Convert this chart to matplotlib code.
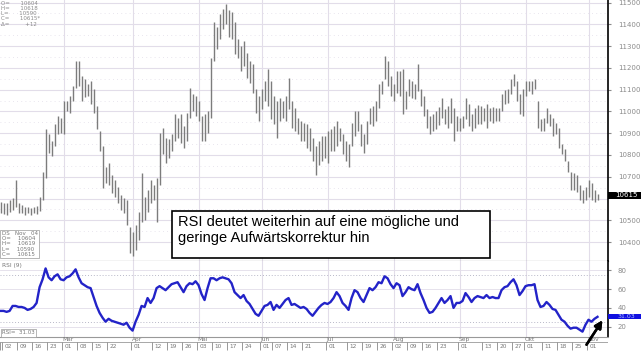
import matplotlib
matplotlib.use('Agg')
import matplotlib.pyplot as plt
from matplotlib.patches import Rectangle
from matplotlib.transforms import blended_transform_factory

# Tagesbalken (Hoch/Tief) 30.01.2004 - 04.11.2004, ein Wert pro Handelstag
highs = [10583, 10578, 10578, 10592, 10601, 10683, 10578, 10569, 10560, 10560,
         10556, 10560, 10565, 10606, 10720, 10920, 10898, 10866, 10943, 10980,
         10970, 11048, 11048, 11071, 11116, 11230, 11230, 11162, 11148, 11126,
         11139, 11103, 11025, 10911, 10843, 10743, 10761, 10706, 10683, 10651,
         10615, 10601, 10592, 10469, 10446, 10478, 10537, 10715, 10606, 10638,
         10683, 10660, 10692, 10902, 10925, 10879, 10875, 10898, 10989, 10970,
         10989, 10934, 10993, 11107, 11080, 11071, 11048, 10980, 10989, 11002,
         11244, 11413, 11390, 11449, 11472, 11495, 11468, 11458, 11413, 11335,
         11299, 11322, 11267, 11230, 11217, 11103, 11071, 11103, 11139, 11194,
         11139, 11071, 11048, 11062, 11048, 11071, 11153, 11048, 11016, 10970,
         10957, 10948, 10943, 10925, 10879, 10843, 10866, 10888, 10888, 10911,
         10920, 10934, 10957, 10925, 10898, 10866, 10852, 10948, 11002, 11002,
         10943, 10898, 10957, 11016, 11025, 11048, 11126, 11139, 11253, 11230,
         11162, 11126, 11185, 11185, 11194, 11094, 11148, 11139, 11126, 11217,
         11103, 11071, 11012, 10980, 10989, 11002, 11021, 11062, 11012, 11025,
         11062, 11016, 10980, 10970, 10980, 11062, 11034, 10989, 11016, 11030,
         11025, 11016, 11034, 11016, 11021, 11016, 11016, 11080, 11098, 11103,
         11148, 11171, 11139, 11080, 11103, 11139, 11139, 11139, 11148, 11048,
         10966, 10970, 11016, 10989, 10970, 10948, 10925, 10852, 10829, 10774,
         10720, 10715, 10706, 10660, 10638, 10651, 10683, 10670, 10638, 10619]

lows = [10533, 10528, 10524, 10537, 10546, 10560, 10533, 10533, 10524, 10533,
        10524, 10533, 10528, 10542, 10592, 10692, 10811, 10797, 10843, 10898,
        10902, 10898, 11002, 10993, 11048, 11107, 11116, 11048, 11066, 11071,
        11034, 10993, 10920, 10820, 10647, 10670, 10660, 10624, 10606, 10578,
        10546, 10533, 10478, 10350, 10337, 10364, 10410, 10492, 10501, 10537,
        10578, 10592, 10492, 10660, 10806, 10765, 10784, 10820, 10866, 10879,
        10856, 10834, 10866, 10970, 11002, 10980, 10957, 10866, 10866, 10902,
        10970, 11230, 11285, 11331, 11381, 11404, 11344, 11331, 11262, 11244,
        11185, 11208, 11153, 11130, 11084, 10993, 10957, 11012, 11048, 11025,
        10966, 10943, 10879, 10957, 10970, 10957, 11012, 10925, 10911, 10898,
        10866, 10866, 10834, 10820, 10774, 10706, 10752, 10774, 10784, 10765,
        10820, 10820, 10843, 10866, 10806, 10774, 10743, 10843, 10888, 10911,
        10843, 10811, 10852, 10943, 10934, 10957, 11016, 11080, 11148, 11116,
        11071, 11048, 11084, 11071, 10989, 11012, 11071, 11062, 11057, 11094,
        11025, 10980, 10925, 10898, 10911, 10920, 10939, 10970, 10943, 10925,
        10948, 10866, 10911, 10911, 10925, 10966, 10934, 10911, 10925, 10943,
        10943, 10957, 10925, 10957, 10948, 10957, 10957, 11002, 11034, 11039,
        11080, 11116, 11048, 10989, 10980, 11071, 11094, 11080, 11103, 10925,
        10911, 10911, 10948, 10934, 10888, 10898, 10834, 10806, 10774, 10720,
        10638, 10638, 10629, 10592, 10578, 10592, 10606, 10592, 10583, 10592]

# RSI (9)
rsi = [36.8, 36.8, 35.8, 36.8, 42.1, 42.1, 41.0, 41.0, 40.0, 37.9,
       38.9, 41.0, 45.3, 62.1, 70.5, 82.1, 72.6, 69.5, 73.7, 75.8,
       70.5, 69.5, 72.6, 73.7, 76.8, 81.1, 72.6, 66.3, 64.2, 62.1,
       61.1, 51.6, 42.1, 34.7, 29.5, 25.3, 28.4, 26.3, 25.3, 24.2,
       23.2, 22.1, 24.2, 18.9, 15.8, 25.3, 32.6, 42.1, 41.0, 50.5,
       45.3, 50.5, 61.1, 63.2, 61.1, 58.9, 62.1, 65.3, 66.3, 67.4,
       62.1, 56.8, 63.2, 66.3, 65.3, 68.4, 64.2, 54.7, 48.4, 61.1,
       71.6, 71.6, 69.5, 71.6, 72.6, 71.6, 70.5, 66.3, 56.8, 53.7,
       50.5, 53.7, 47.4, 44.2, 38.9, 33.7, 31.6, 36.8, 42.1, 43.2,
       46.3, 37.9, 43.2, 40.0, 44.2, 48.4, 50.5, 43.2, 44.2, 42.1,
       40.0, 41.0, 38.9, 34.7, 31.6, 35.8, 40.0, 43.2, 45.3, 44.2,
       46.3, 50.5, 56.8, 52.6, 45.3, 42.1, 37.9, 50.5, 58.9, 56.8,
       50.5, 46.3, 53.7, 61.1, 58.9, 62.1, 67.4, 66.3, 73.7, 71.6,
       65.3, 61.1, 66.3, 64.2, 52.6, 56.8, 62.1, 60.0, 58.9, 65.3,
       55.8, 48.4, 40.0, 34.7, 35.8, 40.0, 45.3, 50.5, 45.3, 48.4,
       52.6, 40.0, 45.3, 45.3, 47.4, 55.8, 51.6, 46.3, 50.5, 52.6,
       51.6, 50.5, 53.7, 50.5, 51.6, 50.5, 50.5, 58.9, 62.1, 63.2,
       67.4, 70.5, 64.2, 53.7, 57.9, 63.2, 64.2, 64.2, 65.3, 48.4,
       41.0, 42.1, 46.3, 43.2, 38.9, 37.9, 32.6, 27.4, 25.3, 21.0,
       17.9, 18.9, 18.9, 16.8, 14.7, 22.1, 27.4, 25.3, 28.4, 30.5]

last_close = 10615

# Achsenbeschriftung (10600 liegt unter der Kursmarke)
price_ticks = [10400, 10500, 10700, 10800, 10900, 11000, 11100, 11200, 11300, 11400, 11500]
grid_levels = [10400, 10500, 10600, 10700, 10800, 10900, 11000, 11100, 11200, 11300, 11400, 11500]
rsi_ticks = [20, 40, 60, 80]
week_idx = [1, 6, 11, 16, 21, 26, 31, 36, 44, 51, 56, 61, 66, 71, 76, 81, 87, 91, 96,
            101, 109, 116, 121, 126, 131, 136, 141, 146, 153, 161, 166, 171, 175, 181,
            186, 191, 196]
week_labels = ['02', '09', '16', '23', '01', '08', '15', '22', '01', '12', '19', '26',
               '03', '10', '17', '24', '01', '07', '14', '21', '01', '12', '19', '26',
               '02', '09', '16', '23', '01', '13', '20', '27', '01', '11', '18', '25', '01']
month_idx = [21, 44, 66, 87, 109, 131, 153, 175, 196]
month_labels = ['Mar', 'Apr', 'Mai', 'Jun', 'Jul', 'Aug', 'Sep', 'Okt', 'Nov']

W, H = 641, 352
fig = plt.figure(figsize=(W / 100, H / 100), dpi=100)
fig.patch.set_facecolor('white')

x = list(range(len(highs)))
xmin, xmax = -0.2, 202.5
grid_c = '#e2dde9'
lab_c = '#8a8a8a'

ax = fig.add_axes([0, (H - 261) / H, 608 / W, 261 / H])
ax_r = fig.add_axes([0, (H - 337) / H, 608 / W, 76 / H])
ax_d = fig.add_axes([0, 0, 608 / W, (H - 337) / H])

# Kursbalken
for m in month_idx:
    ax.axvline(m, color=grid_c, lw=0.8, zorder=0)
for p in grid_levels:
    ax.axhline(p, color=grid_c, lw=0.8, zorder=0)
    ax.axhline(p + 50, color=grid_c, lw=0.6, ls=(0, (1, 4)), zorder=0)
ax.vlines(x, lows, highs, color='#7c7c7c', lw=1.0)
ax.set_xlim(xmin, xmax)
ax.set_ylim(10313, 11512)
ax.yaxis.tick_right()
ax.set_yticks(price_ticks)
ax.set_yticklabels([str(p) for p in price_ticks])
ax.tick_params(axis='y', length=2, colors=lab_c, labelsize=5, pad=5)
ax.set_xticks([])
for s in ['top', 'left']:
    ax.spines[s].set_visible(False)
ax.spines['right'].set_color('black')
ax.spines['right'].set_linewidth(1.2)
ax.spines['bottom'].set_color('#333333')

# aktueller Kurs rechts markiert
tr = blended_transform_factory(ax.transAxes, ax.transData)
ax.add_patch(Rectangle((1.0, last_close - 16), 0.06, 30, transform=tr,
                       facecolor='black', clip_on=False, zorder=5))
ax.text(1.012, last_close, str(last_close), transform=tr, color='white',
        fontsize=5, va='center', ha='left', clip_on=False, zorder=6)

# Infotexte
info = 'O=      10604\nH=      10618\nL=      10590\nC=      10615*\n\u0394=         +12'
ax.text(0.002, 0.997, info, transform=ax.transAxes, fontsize=4, color=lab_c,
        va='top', ha='left', linespacing=1.05)
ax.text(0.003, 0.115, 'DS   Nov   04\nO=    10604\nH=    10619\nL=    10590\nC=    10615',
        transform=ax.transAxes, fontsize=4, color='#777777', va='top', ha='left',
        linespacing=1.05, bbox=dict(boxstyle='square,pad=0.25', fc='white', ec='#999999', lw=0.5))

# RSI
for m in month_idx:
    ax_r.axvline(m, color=grid_c, lw=0.8, zorder=0)
for r in rsi_ticks:
    ax_r.axhline(r, color=grid_c, lw=0.6, zorder=0)
ax_r.axhline(75, color='#b8b8c8', lw=0.7, ls=(0, (1, 2)), zorder=0)
ax_r.axhline(25, color='#b8b8c8', lw=0.7, ls=(0, (1, 2)), zorder=0)
ax_r.plot(x, rsi, color='#2323c8', lw=1.7)
ax_r.set_xlim(xmin, xmax)
ax_r.set_ylim(9, 90)
ax_r.yaxis.tick_right()
ax_r.set_yticks(rsi_ticks)
ax_r.set_yticklabels([str(r) for r in rsi_ticks])
ax_r.tick_params(axis='y', length=2, colors=lab_c, labelsize=5, pad=5)
ax_r.set_xticks([])
for s in ['top', 'left']:
    ax_r.spines[s].set_visible(False)
ax_r.spines['right'].set_color('black')
ax_r.spines['right'].set_linewidth(1.2)
ax_r.spines['bottom'].set_color('#999999')
ax_r.text(0.004, 0.97, 'RSI (9)', transform=ax_r.transAxes, fontsize=4.2,
          color='#777777', va='top')
ax_r.text(0.003, 0.02, 'RSI=  31.03', transform=ax_r.transAxes, fontsize=4,
          color='#777777', va='bottom',
          bbox=dict(boxstyle='square,pad=0.2', fc='white', ec='#999999', lw=0.5))

tr_r = blended_transform_factory(ax_r.transAxes, ax_r.transData)
ax_r.add_patch(Rectangle((1.0, rsi[-1] - 2.8), 0.06, 5.6, transform=tr_r,
                         facecolor='#1010e0', clip_on=False, zorder=5))
ax_r.text(1.015, rsi[-1], '31.03', transform=tr_r, color='#b0c0ff',
          fontsize=4.5, va='center', ha='left', clip_on=False, zorder=6)

# Datumsleiste
ax_d.set_xlim(xmin, xmax)
ax_d.set_ylim(0, 1)
ax_d.axis('off')
ax_d.axhline(0.68, color='#999999', lw=0.6)
for i, lab in zip(week_idx, week_labels):
    ax_d.vlines(i - 0.4, 0.15, 0.68, color='#888888', lw=0.6)
    ax_d.text(i + 0.3, 0.4, lab, fontsize=4.2, color='#777777', va='center', ha='left')
for i, lab in zip(month_idx, month_labels):
    ax_d.text(i - 0.3, 0.85, lab, fontsize=4.2, color='#777777', va='center', ha='left')
ax_d.vlines(-0.1, 0.15, 0.68, color='#888888', lw=0.6)

# Kommentar-Box
fig.add_artist(Rectangle((172 / W, 1 - 258 / H), (490 - 172) / W, 47 / H,
                         transform=fig.transFigure, facecolor='white',
                         edgecolor='black', lw=1.2))
fig.text(178 / W, 1 - 215 / H,
         'RSI deutet weiterhin auf eine mögliche und\ngeringe Aufwärtskorrektur hin',
         fontsize=10.5, family='Liberation Sans', va='top', ha='left', linespacing=1.2)

# Pfeil
fig.add_artist(plt.annotate('', xy=(604 / W, 1 - 318 / H), xytext=(585 / W, 1 - 347 / H),
                            xycoords='figure fraction', textcoords='figure fraction',
                            arrowprops=dict(arrowstyle='-|>', color='black', lw=1.8,
                                            mutation_scale=11)))

fig.savefig('out.png', dpi=100)
